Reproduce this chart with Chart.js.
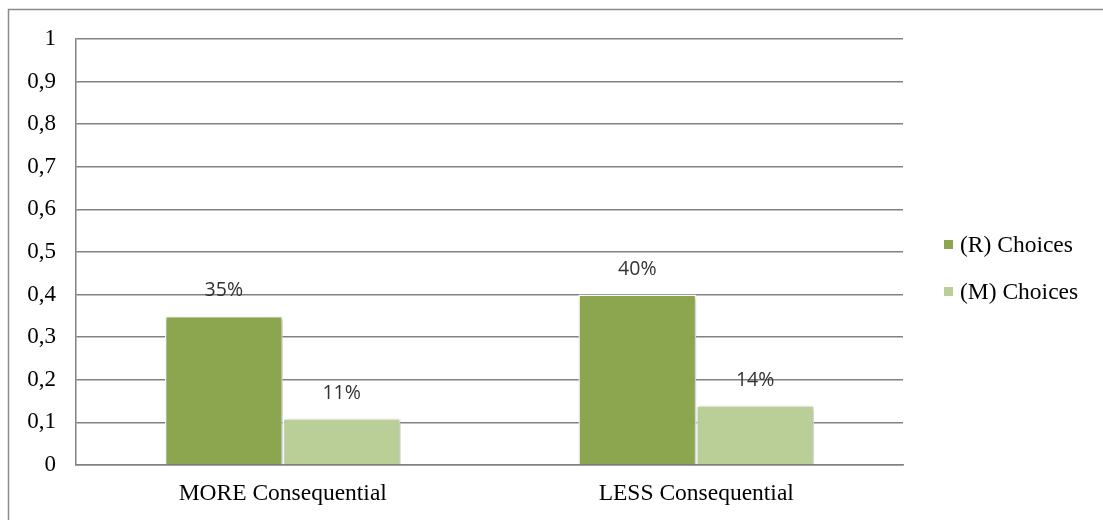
<!DOCTYPE html>
<html>
<head>
<meta charset="utf-8">
<script src="https://cdn.jsdelivr.net/npm/chart.js@4.4.1/dist/chart.umd.min.js"></script>
<style>
  html, body { margin: 0; padding: 0; background: #ffffff; }
  #wrap { width: 1103px; height: 520px; position: relative; }
</style>
</head>
<body>
<div id="wrap"><canvas id="chart" width="1103" height="520"></canvas></div>
<script>
// Categories and series
const categories = ['MORE Consequential', 'LESS Consequential'];
const seriesNames = ['(R) Choices', '(M) Choices'];
const rChoices = [0.35, 0.40];
const mChoices = [0.11, 0.14];
const yTicks = [0, 0.1, 0.2, 0.3, 0.4, 0.5, 0.6, 0.7, 0.8, 0.9, 1];

const colors = ['#8BA64F', '#BACE98'];
const serif = '"Liberation Serif", "Times New Roman", serif';
const sans = '"Open Sans", "DejaVu Sans", sans-serif';
const lineGrey = '#828282';

// Frame along the top and left edges of the chart object
const framePlugin = {
  id: 'frame',
  beforeDraw(chart) {
    const ctx = chart.ctx;
    ctx.save();
    ctx.strokeStyle = '#8a8a8a';
    ctx.lineWidth = 1.5;
    ctx.beginPath();
    ctx.moveTo(8.5, 520);
    ctx.lineTo(8.5, 9.5);
    ctx.lineTo(1103, 9.5);
    ctx.stroke();
    ctx.restore();
  }
};

// Soft shadow behind the bars
const shadowPlugin = {
  id: 'barShadow',
  beforeDatasetsDraw(chart) {
    const ctx = chart.ctx;
    ctx.save();
    ctx.shadowColor = 'rgba(0,0,0,0.28)';
    ctx.shadowBlur = 4;
    ctx.shadowOffsetX = 1.5;
    ctx.shadowOffsetY = 1.5;
  },
  afterDatasetsDraw(chart) {
    chart.ctx.restore();
  }
};

// Percentage labels above each bar
const valueLabelPlugin = {
  id: 'valueLabels',
  afterDatasetsDraw(chart) {
    const ctx = chart.ctx;
    ctx.save();
    ctx.font = '19.5px ' + sans;
    ctx.fillStyle = '#333333';
    ctx.textAlign = 'center';
    ctx.textBaseline = 'middle';
    chart.data.datasets.forEach((ds, di) => {
      const meta = chart.getDatasetMeta(di);
      meta.data.forEach((bar, i) => {
        const v = ds.data[i];
        ctx.fillText(Math.round(v * 100) + '%', bar.x, bar.y - 25);
      });
    });
    ctx.restore();
  }
};

// Legend on the right side
const sideLegendPlugin = {
  id: 'sideLegend',
  afterDraw(chart) {
    const ctx = chart.ctx;
    ctx.save();
    ctx.font = '23.5px ' + serif;
    ctx.textAlign = 'left';
    ctx.textBaseline = 'middle';
    const rows = [244.5, 291.5];
    chart.data.datasets.forEach((ds, di) => {
      const y = rows[di];
      ctx.fillStyle = ds.backgroundColor;
      ctx.fillRect(944, y - 4.5, 9, 9);
      ctx.fillStyle = '#000000';
      ctx.fillText(ds.label, 960, y + 1);
    });
    ctx.restore();
  }
};

new Chart(document.getElementById('chart'), {
  type: 'bar',
  data: {
    labels: categories,
    datasets: [
      { label: seriesNames[0], data: rChoices, backgroundColor: colors[0], borderColor: '#ffffff', borderWidth: 1.5 },
      { label: seriesNames[1], data: mChoices, backgroundColor: colors[1], borderColor: '#ffffff', borderWidth: 1.5 }
    ]
  },
  options: {
    responsive: false,
    animation: false,
    layout: { padding: { top: 39, right: 200, bottom: 0, left: 0 } },
    datasets: { bar: { categoryPercentage: 0.57, barPercentage: 1.0 } },
    plugins: {
      legend: { display: false },
      tooltip: { enabled: false }
    },
    scales: {
      x: {
        grid: { display: false, drawTicks: false },
        border: { display: true, color: lineGrey, width: 1.5 },
        ticks: { color: '#000000', font: { family: serif, size: 23.5 }, padding: 15 },
        afterFit(scale) { scale.height = 55; }
      },
      y: {
        min: 0,
        max: 1,
        afterBuildTicks(scale) { scale.ticks = yTicks.map(v => ({ value: v })); },
        grid: { color: lineGrey, lineWidth: 1.5, drawTicks: false },
        border: { display: true, color: lineGrey, width: 1.5 },
        ticks: {
          color: '#000000',
          font: { family: serif, size: 23 },
          padding: 20,
          callback: v => String(Math.round(v * 10) / 10).replace('.', ',')
        },
        afterFit(scale) { scale.width = 76; }
      }
    }
  },
  plugins: [framePlugin, shadowPlugin, valueLabelPlugin, sideLegendPlugin]
});
</script>
</body>
</html>
